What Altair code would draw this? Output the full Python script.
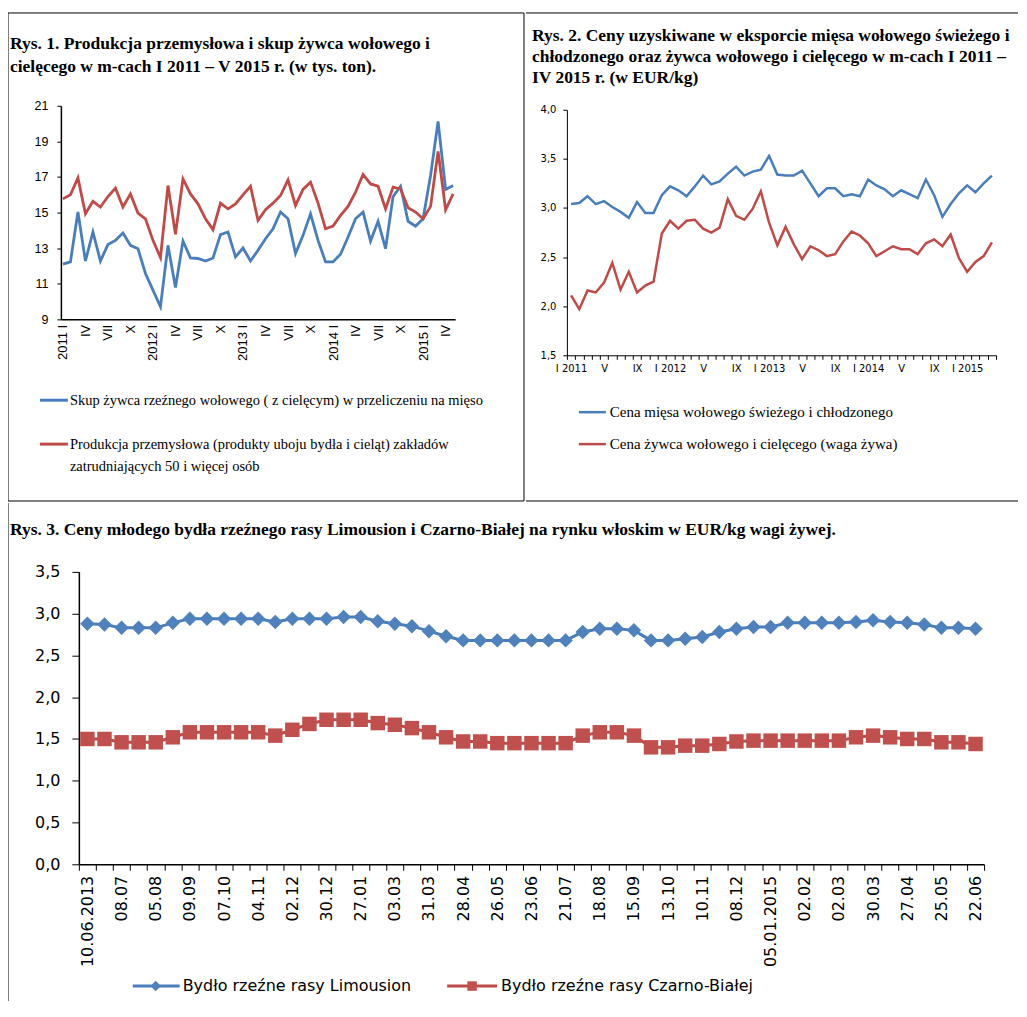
import json
import altair as alt
import pandas as pd

# ---------------- Rys. 1 data (I 2011 - V 2015, monthly) ----------------
skup = [12.10, 12.23, 15.03, 12.28, 13.91, 12.28, 13.20, 13.44, 13.85, 13.16,
        12.97, 11.58, 10.64, 9.71, 13.16, 10.79, 13.40, 12.45, 12.42, 12.28,
        12.45, 13.76, 13.91, 12.51, 13.01, 12.28, 12.88, 13.53, 14.09, 15.03,
        14.65, 12.70, 13.72, 14.93, 13.44, 12.23, 12.23, 12.66, 13.63, 14.65,
        15.03, 13.40, 14.51, 12.97, 15.90, 16.48, 14.51, 14.24, 14.65, 17.08,
        20.12, 16.30, 16.52]
produkcja = [15.77, 16.00, 16.95, 14.93, 15.63, 15.31, 15.90, 16.37, 15.31, 16.05,
             14.97, 14.65, 13.44, 12.47, 16.52, 13.78, 16.89, 16.05, 15.49, 14.65,
             14.04, 15.53, 15.21, 15.49, 16.00, 16.48, 14.56, 15.16, 15.53, 15.96,
             16.84, 15.40, 16.30, 16.71, 15.53, 14.09, 14.24, 14.84, 15.35, 16.15,
             17.14, 16.61, 16.48, 15.21, 16.43, 16.33, 15.27, 15.03, 14.65, 15.35,
             18.44, 15.16, 16.05]
x1_labels = ["2011 I", "IV", "VII", "X", "2012 I", "IV", "VII", "X", "2013 I", "IV",
             "VII", "X", "2014 I", "IV", "VII", "X", "2015 I", "IV"]
y1_ticks = [9, 11, 13, 15, 17, 19, 21]
title1 = "Rys. 1. Produkcja przemysłowa i skup żywca wołowego i\ncielęcego w  m-cach I 2011 – V 2015 r. (w tys. ton)."
leg1_blue = "Skup żywca rzeźnego wołowego ( z cielęcym) w przeliczeniu na mięso"
leg1_red = "Produkcja przemysłowa (produkty uboju bydła i cieląt) zakładów\nzatrudniających 50 i więcej osób"

# ---------------- Rys. 2 data (I 2011 - IV 2015, monthly) ----------------
cena_mieso = [3.04, 3.05, 3.12, 3.04, 3.07, 3.01, 2.96, 2.90, 3.06, 2.95,
              2.95, 3.13, 3.22, 3.18, 3.12, 3.22, 3.33, 3.24, 3.27, 3.35,
              3.42, 3.33, 3.37, 3.39, 3.53, 3.34, 3.33, 3.33, 3.38, 3.25,
              3.12, 3.20, 3.20, 3.12, 3.14, 3.12, 3.29, 3.23, 3.19, 3.12,
              3.18, 3.14, 3.10, 3.29, 3.13, 2.91, 3.04, 3.15, 3.23, 3.16,
              3.25, 3.33]
cena_zywiec = [2.11, 1.97, 2.16, 2.14, 2.24, 2.44, 2.17, 2.35, 2.14, 2.21,
               2.25, 2.74, 2.87, 2.79, 2.87, 2.88, 2.79, 2.75, 2.80, 3.09,
               2.92, 2.88, 2.99, 3.17, 2.85, 2.62, 2.81, 2.63, 2.48, 2.61,
               2.57, 2.51, 2.53, 2.66, 2.76, 2.72, 2.64, 2.51, 2.56, 2.61,
               2.58, 2.58, 2.53, 2.64, 2.68, 2.61, 2.73, 2.49, 2.35, 2.45,
               2.51, 2.65]
x2_labels = ["I 2011", "V", "IX", "I 2012", "V", "IX", "I 2013", "V", "IX",
             "I 2014", "V", "IX", "I 2015"]
y2_ticks = [1.5, 2.0, 2.5, 3.0, 3.5, 4.0]
title2 = ("Rys. 2. Ceny uzyskiwane w eksporcie mięsa wołowego świeżego i\n"
          "chłodzonego oraz żywca wołowego i cielęcego w m-cach I 2011 –\n"
          "IV 2015 r. (w EUR/kg)")
leg2_blue = "Cena mięsa wołowego świeżego i chłodzonego"
leg2_red = "Cena żywca wołowego i cielęcego (waga żywa)"

# ---------------- Rys. 3 data (biweekly, 10.06.2013 - 22.06.2015) ----------------
limousin = [2.88, 2.87, 2.83, 2.83, 2.83, 2.89, 2.94, 2.94, 2.94, 2.94,
            2.94, 2.90, 2.94, 2.94, 2.94, 2.96, 2.96, 2.91, 2.88, 2.85,
            2.79, 2.73, 2.68, 2.68, 2.68, 2.68, 2.68, 2.68, 2.68, 2.78,
            2.82, 2.82, 2.80, 2.68, 2.68, 2.70, 2.72, 2.78, 2.82, 2.84,
            2.84, 2.89, 2.89, 2.89, 2.89, 2.90, 2.92, 2.90, 2.89, 2.87,
            2.83, 2.83, 2.82]
czarno_biala = [1.50, 1.50, 1.46, 1.46, 1.46, 1.52, 1.58, 1.58, 1.58, 1.58,
                1.58, 1.54, 1.61, 1.68, 1.73, 1.73, 1.73, 1.69, 1.67, 1.63,
                1.58, 1.52, 1.47, 1.47, 1.45, 1.45, 1.45, 1.45, 1.45, 1.54,
                1.58, 1.58, 1.54, 1.40, 1.40, 1.42, 1.42, 1.44, 1.47, 1.48,
                1.48, 1.48, 1.48, 1.48, 1.48, 1.52, 1.54, 1.52, 1.50, 1.50,
                1.46, 1.46, 1.44]
x3_labels = ["10.06.2013", "08.07", "05.08", "09.09", "07.10", "04.11", "02.12",
             "30.12", "27.01", "03.03", "31.03", "28.04", "26.05", "23.06", "21.07",
             "18.08", "15.09", "13.10", "10.11", "08.12", "05.01.2015", "02.02",
             "02.03", "30.03", "27.04", "25.05", "22.06"]
y3_ticks = [0.0, 0.5, 1.0, 1.5, 2.0, 2.5, 3.0, 3.5]
title3 = ("Rys. 3. Ceny młodego bydła rzeźnego rasy Limousion i Czarno-Białej "
          "na rynku włoskim w EUR/kg wagi żywej.")
leg3_blue = "Bydło rzeźne rasy Limousion"
leg3_red = "Bydło rzeźne rasy Czarno-Białej"

# ---------------- styling ----------------
BLUE_LINE = "#4A7EBB"
RED_LINE = "#BE4B48"
BLUE_MARK = "#4F81BD"
RED_MARK = "#C0504D"
SERIF = "Liberation Serif"
COMMA = "replace(format(datum.value, '.1f'), '.', ',')"
TITLE_SIZE = 17.5
RIGHT_EDGE = 1018


def one():
    return pd.DataFrame({"k": [0]})


def arr(lst):
    return json.dumps(lst, ensure_ascii=False)


class Cell:
    """A table cell; every position is given in page pixels and shifted to the cell."""

    def __init__(self, x0, y0, x1, y1):
        self.x0, self.y0 = x0, y0
        self.w, self.h = x1 - x0, y1 - y0

    def X(self, px):
        return px - self.x0

    def Y(self, py):
        return py - self.y0

    def rule(self, xa, ya, xb, yb, color="black", width=1.0):
        return alt.Chart(one()).mark_rule(color=color, strokeWidth=width).encode(
            x=alt.value(self.X(xa)), x2=alt.value(self.X(xb)),
            y=alt.value(self.Y(ya)), y2=alt.value(self.Y(yb)))

    def text(self, t, x, y, font=SERIF, size=14, weight="normal", lh=20):
        return alt.Chart(one()).mark_text(
            align="left", baseline="alphabetic", lineBreak="\n", lineHeight=lh,
            font=font, fontSize=size, fontWeight=weight, color="black"
        ).encode(x=alt.value(self.X(x)), y=alt.value(self.Y(y)), text=alt.value(t))

    def marker(self, shape, color, x, y, size=110):
        return alt.Chart(one()).mark_point(shape=shape, filled=True, opacity=1,
                                           color=color, size=size).encode(
            x=alt.value(self.X(x)), y=alt.value(self.Y(y)))


# ================= Chart 1 =================
cell1 = Cell(8, 12, 525, 501)
p1 = dict(left=61, right=456, top=105, bottom=319)
df1 = pd.DataFrame({"i": list(range(len(skup))), "skup": skup, "prod": produkcja})
x1 = alt.X("i:Q",
           scale=alt.Scale(domain=[-0.27, len(skup) - 1 + 0.27], nice=False, zero=False,
                           range=[cell1.X(p1["left"]), cell1.X(p1["right"])]),
           axis=alt.Axis(values=list(range(0, 3 * len(x1_labels), 3)),
                         labelExpr=f"{arr(x1_labels)}[round(datum.value / 3)]",
                         labelAngle=270, labelFont="Liberation Sans", labelFontSize=13,
                         labelColor="black", ticks=False, labelPadding=5,
                         domainColor="black", domainWidth=1.5, grid=False, title=None,
                         labelOverlap=False, labelFlush=False,
                         offset=-(cell1.h - cell1.Y(p1["bottom"]))))
y1_scale = alt.Scale(domain=[9, 21], nice=False, zero=False,
                     range=[cell1.Y(p1["bottom"]), cell1.Y(p1["top"])])
y1_axis = alt.Axis(values=y1_ticks, labelFont="Liberation Sans", labelFontSize=12.5,
                   labelColor="black", tickSize=4, tickColor="black", labelPadding=9,
                   domainColor="black", domainWidth=1.5, grid=False, title=None,
                   labelFlush=False, offset=-cell1.X(p1["left"]))
c1_layers = [
    cell1.rule(8, 12, 525, 12), cell1.rule(8, 12, 8, 501),
    cell1.rule(525, 12, 525, 501), cell1.rule(8, 501, 525, 501),
    cell1.text(title1, 10, 48, size=TITLE_SIZE, weight="bold", lh=23),
    cell1.rule(40, 400, 68, 400, color=BLUE_LINE, width=3),
    cell1.text(leg1_blue, 70, 405, size=14.5),
    cell1.rule(40, 444, 68, 444, color=RED_LINE, width=3),
    cell1.text(leg1_red, 70, 449, size=14.5, lh=22),
    alt.Chart(df1).mark_line(color=BLUE_LINE, strokeWidth=2.8).encode(
        x=x1, y=alt.Y("skup:Q", scale=y1_scale, axis=y1_axis)),
    alt.Chart(df1).mark_line(color=RED_LINE, strokeWidth=2.8).encode(
        x=x1, y=alt.Y("prod:Q", scale=y1_scale, axis=y1_axis)),
]
c1 = alt.layer(*c1_layers).properties(width=cell1.w, height=cell1.h)

# ================= Chart 2 =================
cell2 = Cell(525, 12, RIGHT_EDGE, 501)
p2 = dict(left=566, right=996, top=109, bottom=355)
df2 = pd.DataFrame({"i": list(range(len(cena_mieso))), "mieso": cena_mieso,
                    "zywiec": cena_zywiec})
x2 = alt.X("i:O", bandPosition=0.5,
           scale=alt.Scale(type="band", paddingInner=0, paddingOuter=0,
                           range=[cell2.X(p2["left"]), cell2.X(p2["right"])]),
           axis=alt.Axis(tickBand="extent",
                         labelExpr=f"datum.value % 4 == 0 ? {arr(x2_labels)}[datum.value / 4] : ''",
                         labelAngle=0, labelFont="DejaVu Sans", labelFontSize=10,
                         labelColor="black", tickSize=4, tickColor="black", labelPadding=4,
                         domainColor="black", grid=False, title=None, labelOverlap=False,
                         offset=-(cell2.h - cell2.Y(p2["bottom"]))))
y2_scale = alt.Scale(domain=[1.5, 4.0], nice=False, zero=False,
                     range=[cell2.Y(p2["bottom"]), cell2.Y(p2["top"])])
y2_axis = alt.Axis(values=y2_ticks, labelExpr=COMMA, labelFont="DejaVu Sans",
                   labelFontSize=10, labelColor="black", tickSize=4, tickColor="black",
                   labelPadding=7, domainColor="black", grid=False, title=None,
                   labelFlush=False, offset=-cell2.X(p2["left"]))
c2_layers = [
    cell2.rule(525, 12, RIGHT_EDGE, 12), cell2.rule(525, 501, RIGHT_EDGE, 501),
    cell2.text(title2, 531, 40, size=TITLE_SIZE, weight="bold", lh=21),
    cell2.rule(578, 412, 605, 412, color=BLUE_LINE, width=2.5),
    cell2.text(leg2_blue, 609, 417, size=15),
    cell2.rule(578, 444, 605, 444, color=RED_LINE, width=2.5),
    cell2.text(leg2_red, 609, 449, size=15),
    alt.Chart(df2).mark_line(color=BLUE_LINE, strokeWidth=2.5).encode(
        x=x2, y=alt.Y("mieso:Q", scale=y2_scale, axis=y2_axis)),
    alt.Chart(df2).mark_line(color=RED_LINE, strokeWidth=2.5).encode(
        x=x2, y=alt.Y("zywiec:Q", scale=y2_scale, axis=y2_axis)),
]
c2 = alt.layer(*c2_layers).properties(width=cell2.w, height=cell2.h)

# ================= Chart 3 =================
cell3 = Cell(8, 501, RIGHT_EDGE, 1000)
p3 = dict(left=79, right=986, top=570, bottom=863)
df3 = pd.DataFrame({"i": list(range(len(limousin))), "lim": limousin, "cb": czarno_biala})
x3 = alt.X("i:O", bandPosition=0.5,
           scale=alt.Scale(type="band", paddingInner=0, paddingOuter=0,
                           range=[cell3.X(p3["left"]), cell3.X(p3["right"])]),
           axis=alt.Axis(tickBand="extent",
                         labelExpr=f"datum.value % 2 == 0 ? {arr(x3_labels)}[datum.value / 2] : ''",
                         labelAngle=270, labelFont="DejaVu Sans", labelFontSize=16,
                         labelColor="black", tickSize=6, tickColor="black", labelPadding=5,
                         domainColor="black", domainWidth=1.5, grid=False, title=None,
                         labelOverlap=False, offset=-(cell3.h - cell3.Y(p3["bottom"]))))
y3_scale = alt.Scale(domain=[0, 3.5], nice=False, zero=False,
                     range=[cell3.Y(p3["bottom"]), cell3.Y(p3["top"])])
y3_axis = alt.Axis(values=y3_ticks, labelExpr=COMMA, labelFont="DejaVu Sans",
                   labelFontSize=16, labelColor="black", tickSize=7, tickColor="black",
                   labelPadding=12, domainColor="black", domainWidth=1.5, grid=False,
                   title=None, labelFlush=False, offset=-cell3.X(p3["left"]))
c3_layers = [
    cell3.rule(8, 501, 8, 1000),
    cell3.text(title3, 10, 533, size=TITLE_SIZE, weight="bold"),
    cell3.rule(133, 985, 180, 985, color=BLUE_LINE, width=3),
    cell3.marker("diamond", BLUE_MARK, 156, 985),
    cell3.text(leg3_blue, 183, 990, font="DejaVu Sans", size=16),
    cell3.rule(448, 985, 498, 985, color=RED_LINE, width=3),
    cell3.marker("square", RED_MARK, 473, 985, size=90),
    cell3.text(leg3_red, 502, 990, font="DejaVu Sans", size=16),
    alt.Chart(df3).mark_line(color=BLUE_LINE, strokeWidth=3).encode(
        x=x3, y=alt.Y("lim:Q", scale=y3_scale, axis=y3_axis)),
    alt.Chart(df3).mark_point(shape="diamond", filled=True, opacity=1, size=210,
                              color=BLUE_MARK).encode(
        x=x3, y=alt.Y("lim:Q", scale=y3_scale, axis=y3_axis)),
    alt.Chart(df3).mark_line(color=RED_LINE, strokeWidth=3).encode(
        x=x3, y=alt.Y("cb:Q", scale=y3_scale, axis=y3_axis)),
    alt.Chart(df3).mark_point(shape="square", filled=True, opacity=1, size=210,
                              color=RED_MARK).encode(
        x=x3, y=alt.Y("cb:Q", scale=y3_scale, axis=y3_axis)),
]
c3 = alt.layer(*c3_layers).properties(width=cell3.w, height=cell3.h)

row1 = alt.hconcat(c1, c2, spacing=0)
chart = alt.vconcat(row1, c3, spacing=0).properties(
    padding={"left": -8, "top": 3, "right": 0, "bottom": 0},
    background="white",
).configure_view(strokeWidth=0)

chart.save("out.html", embed_options={"renderer": "svg", "actions": False})
